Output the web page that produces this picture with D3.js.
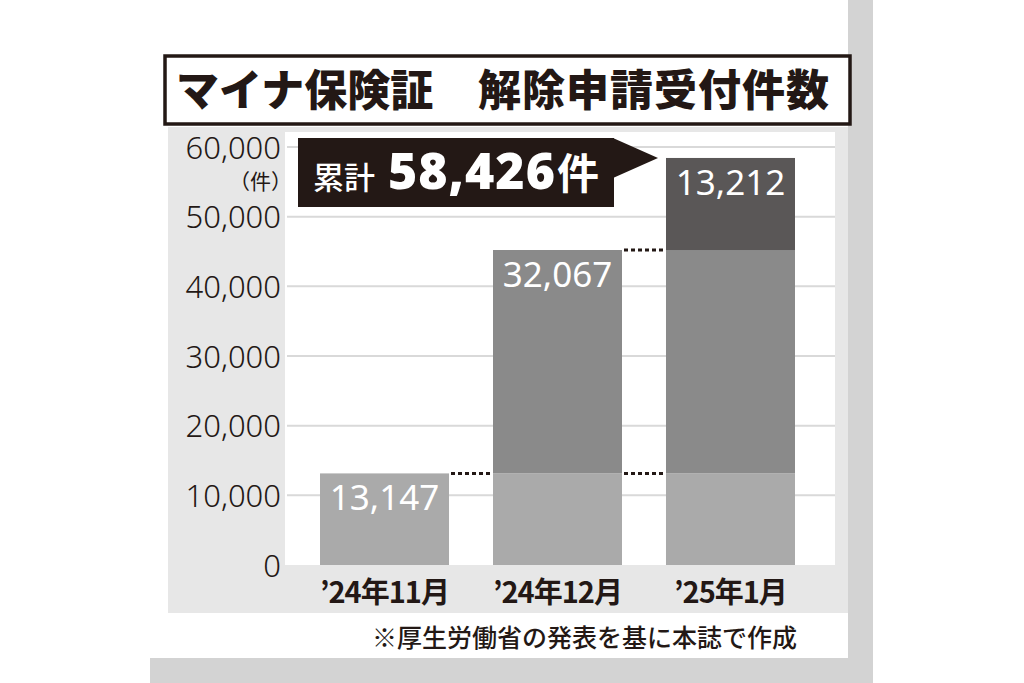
<!DOCTYPE html>
<html><head><meta charset="utf-8">
<script src="https://cdn.jsdelivr.net/npm/d3@7/dist/d3.min.js"></script>
<style>
html,body{margin:0;padding:0;background:#fff;}
svg{display:block;}
</style></head>
<body>
<svg id="c" width="1024" height="683"></svg>
<script>
const title1 = "マイナ保険証";
const title2 = "解除申請受付件数";
const categories = ["’24年11月", "’24年12月", "’25年1月"];
const baseValues = [13147, 13147, 13147];
const addedValues = [0, 32067, 32067];
const newValues = [0, 0, 13212];
const labelValues = ["13,147", "32,067", "13,212"];
const yTicks = [0, 10000, 20000, 30000, 40000, 50000, 60000];
const totalLabel = "58,426";
const footnote = "※厚生労働省の発表を基に本誌で作成";

const svg = d3.select("#c");
const JP = "'Noto Sans CJK JP','Noto Sans',sans-serif";
const NUM = "'Noto Sans','Open Sans',sans-serif";

// background strips
svg.append("rect").attr("x",848).attr("y",0).attr("width",25).attr("height",683).attr("fill","#d3d3d3");
svg.append("rect").attr("x",150).attr("y",658).attr("width",723).attr("height",25).attr("fill","#d3d3d3");
// panel
svg.append("rect").attr("x",168).attr("y",127).attr("width",680).attr("height",486).attr("fill","#e7e7e7");
// footnote white area
svg.append("rect").attr("x",150).attr("y",613).attr("width",698).attr("height",45).attr("fill","#fff");

// title box
svg.append("rect").attr("x",165).attr("y",56).attr("width",685).attr("height",68)
  .attr("fill","#fff").attr("stroke","#231815").attr("stroke-width",3.5);
svg.append("text").attr("x",176).attr("y",106).attr("font-family",JP).attr("font-weight",900)
  .attr("font-size",43).attr("fill","#231815").attr("letter-spacing",0).text(title1);
svg.append("text").attr("x",478).attr("y",106).attr("font-family",JP).attr("font-weight",900)
  .attr("font-size",43).attr("fill","#231815").attr("letter-spacing",1).text(title2);

// plot area
const plotL = 287, plotR = 835, plotT = 132, plotB = 565;
svg.append("rect").attr("x",plotL-2).attr("y",plotT).attr("width",plotR-plotL+2).attr("height",plotB-plotT).attr("fill","#fff");

const y = d3.scaleLinear().domain([0,60000]).range([565,147]);
const x = d3.scaleBand().domain(categories).range([287,828]).paddingInner(0.2543).paddingOuter(0.1908);

// gridlines
svg.append("g").selectAll("line").data(yTicks.filter(d=>d>0)).join("line")
  .attr("x1",plotL).attr("x2",plotR).attr("y1",d=>y(d)).attr("y2",d=>y(d))
  .attr("stroke","#d9d9d9").attr("stroke-width",2);

// y axis
const yAxis = d3.axisLeft(y).tickValues(yTicks).tickSize(0).tickPadding(0).tickFormat(d3.format(","));
const gy = svg.append("g").attr("transform","translate(281,0)").call(yAxis);
gy.select(".domain").remove();
gy.selectAll("text").attr("font-family",NUM).attr("font-weight",300).attr("font-size",31)
  .attr("fill","#231815").attr("dy","0.36em");
svg.append("text").attr("x",292).attr("y",189).attr("text-anchor","end").attr("font-family",JP)
  .attr("font-size",21).attr("fill","#231815").text("（件）");

// bars
const stackData = categories.map((c,i)=>({c, a:baseValues[i], b:addedValues[i], n:newValues[i]}));
const g = svg.append("g");
g.selectAll(".base").data(stackData).join("rect")
  .attr("x",d=>x(d.c)).attr("width",x.bandwidth())
  .attr("y",d=>y(d.a)).attr("height",d=>y(0)-y(d.a)).attr("fill","#aaaaaa");
g.selectAll(".mid").data(stackData.filter(d=>d.b>0)).join("rect")
  .attr("x",d=>x(d.c)).attr("width",x.bandwidth())
  .attr("y",d=>y(d.a+d.b)).attr("height",d=>y(d.a)-y(d.a+d.b)).attr("fill","#8a8a8a");
g.selectAll(".top").data(stackData.filter(d=>d.n>0)).join("rect")
  .attr("x",d=>x(d.c)).attr("width",x.bandwidth())
  .attr("y",d=>y(d.a+d.b+d.n)).attr("height",d=>y(d.a+d.b)-y(d.a+d.b+d.n)).attr("fill","#5a5757");

// dotted connectors
const conn = [
  {from:0, v:baseValues[0]},
  {from:1, v:baseValues[1]},
  {from:1, v:baseValues[1]+addedValues[1]}
];
svg.append("g").selectAll("line").data(conn).join("line")
  .attr("x1",d=>x(categories[d.from])+x.bandwidth()+2)
  .attr("x2",d=>x(categories[d.from+1])-2)
  .attr("y1",d=>y(d.v)).attr("y2",d=>y(d.v))
  .attr("stroke","#231815").attr("stroke-width",3).attr("stroke-dasharray","4,3");

// bar labels
const tops = stackData.map(d=>d.a+d.b+d.n);
svg.append("g").selectAll("text").data(stackData).join("text")
  .attr("x",d=>x(d.c)+x.bandwidth()/2)
  .attr("y",(d,i)=>y(tops[i])+37)
  .attr("text-anchor","middle").attr("font-family",NUM).attr("font-size",35)
  .attr("fill","#fff").text((d,i)=>labelValues[i]);

// x labels
svg.append("g").selectAll("text").data(categories).join("text")
  .attr("x",d=>x(d)+x.bandwidth()/2).attr("y",603)
  .attr("text-anchor","middle").attr("font-family",JP).attr("font-weight",700)
  .attr("font-size",29).attr("fill","#231815").attr("letter-spacing",-1).text(d=>d);

// callout
svg.append("rect").attr("x",298).attr("y",138).attr("width",316).attr("height",69).attr("fill","#231815");
const tipY = y(tops[2]);
svg.append("path").attr("d",`M613,138 L${x(categories[2])-8},${tipY} L613,178 Z`).attr("fill","#231815");
const ct = svg.append("text").attr("y",189).attr("fill","#fff");
ct.append("tspan").attr("x",313).attr("font-family",JP).attr("font-size",31).attr("font-weight",500).text("累計");
ct.append("tspan").attr("x",388).attr("font-family",NUM).attr("font-size",50).attr("font-weight",900).attr("letter-spacing",1).text(totalLabel);
ct.append("tspan").attr("font-family",JP).attr("font-size",42).attr("font-weight",700).attr("dx",1).text("件");

// footnote
svg.append("text").attr("x",797).attr("y",647).attr("text-anchor","end").attr("font-family",JP)
  .attr("font-size",25).attr("font-weight",500).attr("fill","#231815").text(footnote);
</script>
</body></html>
